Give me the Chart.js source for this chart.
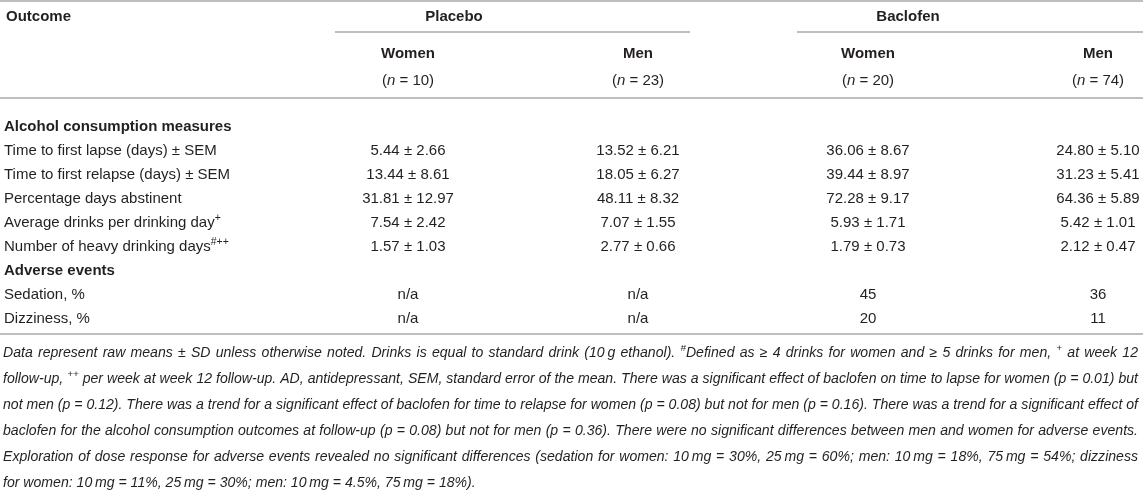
<!DOCTYPE html>
<html>
<head>
<meta charset="utf-8">
<script src="https://cdn.jsdelivr.net/npm/chart.js@4.4.1/dist/chart.umd.min.js"></script>
<style>
  html, body { margin: 0; padding: 0; background: #fff; }
  #wrap { width: 1143px; height: 492px; position: relative; }
</style>
</head>
<body>
<div id="wrap"><canvas id="tableChart"></canvas></div>
<script>
// columns of the table
const groups = ['Placebo', 'Baclofen'];
const columns = ['Women', 'Men', 'Women', 'Men'];
const sampleSizes = [10, 23, 20, 74];

// rows (section headers are flagged)
const rowLabels = [
  'Alcohol consumption measures',
  'Time to first lapse (days) ± SEM',
  'Time to first relapse (days) ± SEM',
  'Percentage days abstinent',
  'Average drinks per drinking day',
  'Number of heavy drinking days',
  'Adverse events',
  'Sedation, %',
  'Dizziness, %'
];
const rowSup = ['', '', '', '', '+', '#++', '', '', ''];
const sectionRows = [0, 6];

// alcohol consumption measures: mean and SEM per column
const placeboWomenMean = [5.44, 13.44, 31.81, 7.54, 1.57];
const placeboWomenSem = [2.66, 8.61, 12.97, 2.42, 1.03];
const placeboMenMean = [13.52, 18.05, 48.11, 7.07, 2.77];
const placeboMenSem = [6.21, 6.27, 8.32, 1.55, 0.66];
const baclofenWomenMean = [36.06, 39.44, 72.28, 5.93, 1.79];
const baclofenWomenSem = [8.67, 8.97, 9.17, 1.71, 0.73];
const baclofenMenMean = [24.80, 31.23, 64.36, 5.42, 2.12];
const baclofenMenSem = [5.10, 5.41, 5.89, 1.01, 0.47];

// adverse events, % (null = n/a)
const sedationPct = [null, null, 45, 36];
const dizzinessPct = [null, null, 20, 11];

const footnote = [
  [['Data represent raw means ± SD unless otherwise noted. Drinks is equal to standard drink (10\u2009g ethanol). '], ['#', 1], ['Defined as ≥ 4 drinks for women and ≥ 5 drinks for men, '], ['+', 1], [' at week 12']],
  [['follow-up, '], ['++', 1], [' per week at week 12 follow-up. AD, antidepressant, SEM, standard error of the mean. There was a significant effect of baclofen on time to lapse for women (p = 0.01) but']],
  [['not men (p = 0.12). There was a trend for a significant effect of baclofen for time to relapse for women (p = 0.08) but not for men (p = 0.16). There was a trend for a significant effect of']],
  [['baclofen for the alcohol consumption outcomes at follow-up (p = 0.08) but not for men (p = 0.36). There were no significant differences between men and women for adverse events.']],
  [['Exploration of dose response for adverse events revealed no significant differences (sedation for women: 10\u2009mg = 30%, 25\u2009mg = 60%; men: 10\u2009mg = 18%, 75\u2009mg = 54%; dizziness']],
  [['for women: 10\u2009mg = 11%, 25\u2009mg = 30%; men: 10\u2009mg = 4.5%, 75\u2009mg = 18%).']]
];

const FONT = '"Liberation Sans", Arial, Helvetica, sans-serif';
const INK = '#231f20';
const RULE = '#a7a9ac';

function cellTexts(means, sems, colIndex) {
  const out = [];
  means.forEach((m, i) => out.push({ row: i + 1, text: m.toFixed(2) + ' ± ' + sems[i].toFixed(2) }));
  out.push({ row: 7, text: sedationPct[colIndex] == null ? 'n/a' : String(sedationPct[colIndex]) });
  out.push({ row: 8, text: dizzinessPct[colIndex] == null ? 'n/a' : String(dizzinessPct[colIndex]) });
  return out;
}

const cells = [
  cellTexts(placeboWomenMean, placeboWomenSem, 0),
  cellTexts(placeboMenMean, placeboMenSem, 1),
  cellTexts(baclofenWomenMean, baclofenWomenSem, 2),
  cellTexts(baclofenMenMean, baclofenMenSem, 3)
];

const datasets = cells.map((col, c) => ({
  label: groups[Math.floor(c / 2)] + ' ' + columns[c],
  data: col.map(d => ({ x: c, y: d.row })),
  texts: col.map(d => d.text),
  pointRadius: 0,
  showLine: false
}));

function rule(ctx, x1, x2, y) {
  ctx.save();
  ctx.strokeStyle = RULE;
  ctx.lineWidth = 1.5;
  ctx.beginPath();
  ctx.moveTo(x1, y);
  ctx.lineTo(x2, y);
  ctx.stroke();
  ctx.restore();
}

// draws [text, isSup] pieces; extra = added width per space (justify)
function drawPieces(ctx, pieces, x, y, size, style, extra) {
  pieces.forEach(p => {
    const sup = p[1];
    const fs = sup ? size * 0.7 : size;
    ctx.font = style + ' ' + fs + 'px ' + FONT;
    const yy = sup ? y - size * 0.35 : y;
    if (extra && !sup) {
      p[0].split(/( )/).forEach(w => {
        if (w === ' ') { x += ctx.measureText(' ').width + extra; return; }
        ctx.fillText(w, x, yy);
        x += ctx.measureText(w).width;
      });
    } else {
      ctx.fillText(p[0], x, yy);
      x += ctx.measureText(p[0]).width;
    }
  });
}

function piecesWidth(ctx, pieces, size, style) {
  let w = 0;
  pieces.forEach(p => {
    ctx.font = style + ' ' + (p[1] ? size * 0.7 : size) + 'px ' + FONT;
    w += ctx.measureText(p[0]).width;
  });
  return w;
}

const tablePlugin = {
  id: 'tableText',
  afterDatasetsDraw(chart) {
    const ctx = chart.ctx;
    const xs = chart.scales.x, ys = chart.scales.y;
    const W = chart.width;
    const top = ys.getPixelForValue(0);
    const bottom = ys.getPixelForValue(rowLabels.length - 1);
    const size = 15;
    ctx.save();
    ctx.fillStyle = INK;
    ctx.textBaseline = 'middle';

    // header
    rule(ctx, 0, W, 1);
    ctx.font = 'bold ' + size + 'px ' + FONT;
    ctx.textAlign = 'left';
    ctx.fillText('Outcome', 6, top - 110);
    ctx.textAlign = 'center';
    const g0 = (xs.getPixelForValue(0) + xs.getPixelForValue(1)) / 2;
    const g1 = (xs.getPixelForValue(2) + xs.getPixelForValue(3)) / 2;
    ctx.fillText(groups[0], g0 - 69, top - 110);
    ctx.fillText(groups[1], g1 - 75, top - 110);
    rule(ctx, 335, 690, top - 95);
    rule(ctx, 797, W, top - 95);
    columns.forEach((c, i) => {
      const cx = xs.getPixelForValue(i);
      ctx.font = 'bold ' + size + 'px ' + FONT;
      ctx.textAlign = 'center';
      ctx.fillText(c, cx, top - 73);
      // (n = ..) with italic n
      const a = '(', n = 'n', b = ' = ' + sampleSizes[i] + ')';
      ctx.font = size + 'px ' + FONT;
      const wa = ctx.measureText(a).width, wb = ctx.measureText(b).width;
      ctx.font = 'italic ' + size + 'px ' + FONT;
      const wn = ctx.measureText(n).width;
      let x0 = cx - (wa + wn + wb) / 2;
      ctx.textAlign = 'left';
      ctx.font = size + 'px ' + FONT;
      ctx.fillText(a, x0, top - 46);
      ctx.font = 'italic ' + size + 'px ' + FONT;
      ctx.fillText(n, x0 + wa, top - 46);
      ctx.font = size + 'px ' + FONT;
      ctx.fillText(b, x0 + wa + wn, top - 46);
    });
    rule(ctx, 0, W, top - 29);

    // row labels
    ctx.textAlign = 'left';
    rowLabels.forEach((label, i) => {
      const yy = ys.getPixelForValue(i);
      const style = sectionRows.includes(i) ? 'bold' : '';
      const pieces = [[label]];
      if (rowSup[i]) pieces.push([rowSup[i], 1]);
      drawPieces(ctx, pieces, 4, yy, size, style, 0);
    });

    // cells, placed by the chart's own point elements
    ctx.font = size + 'px ' + FONT;
    ctx.textAlign = 'center';
    chart.data.datasets.forEach((ds, di) => {
      chart.getDatasetMeta(di).data.forEach((el, j) => {
        ctx.fillText(ds.texts[j], el.x, el.y);
      });
    });

    rule(ctx, 0, W, bottom + 15);

    // footnote: one size for all lines, lines 1-5 justified
    ctx.textAlign = 'left';
    const fx = 3, fRight = W - 5;
    let widest = 0;
    footnote.forEach(p => { widest = Math.max(widest, piecesWidth(ctx, p, 10, 'italic')); });
    const fsz = Math.min(14.5, 10 * (fRight - fx) / widest);
    const lineH = 26;
    footnote.forEach((pieces, i) => {
      const yy = bottom + 34 + i * lineH;
      let extra = 0;
      if (i < footnote.length - 1) {
        const w = piecesWidth(ctx, pieces, fsz, 'italic');
        const spaces = pieces.filter(p => !p[1]).map(p => (p[0].match(/ /g) || []).length).reduce((s, v) => s + v, 0);
        extra = spaces ? Math.max(0, (fRight - fx - w) / spaces) : 0;
      }
      drawPieces(ctx, pieces, fx, yy, fsz, 'italic', extra);
    });
    ctx.restore();
  }
};

new Chart(document.getElementById('tableChart'), {
  type: 'line',
  data: { datasets: datasets },
  options: {
    responsive: true,
    maintainAspectRatio: false,
    animation: false,
    events: [],
    layout: { padding: { left: 408, right: 45, top: 127, bottom: 173 } },
    plugins: { legend: { display: false }, tooltip: { enabled: false } },
    scales: {
      x: { type: 'category', labels: columns.map((c, i) => i), display: false, offset: false },
      y: { type: 'category', labels: rowLabels.map((r, i) => i), display: false, offset: false }
    }
  },
  plugins: [tablePlugin]
});
</script>
</body>
</html>
